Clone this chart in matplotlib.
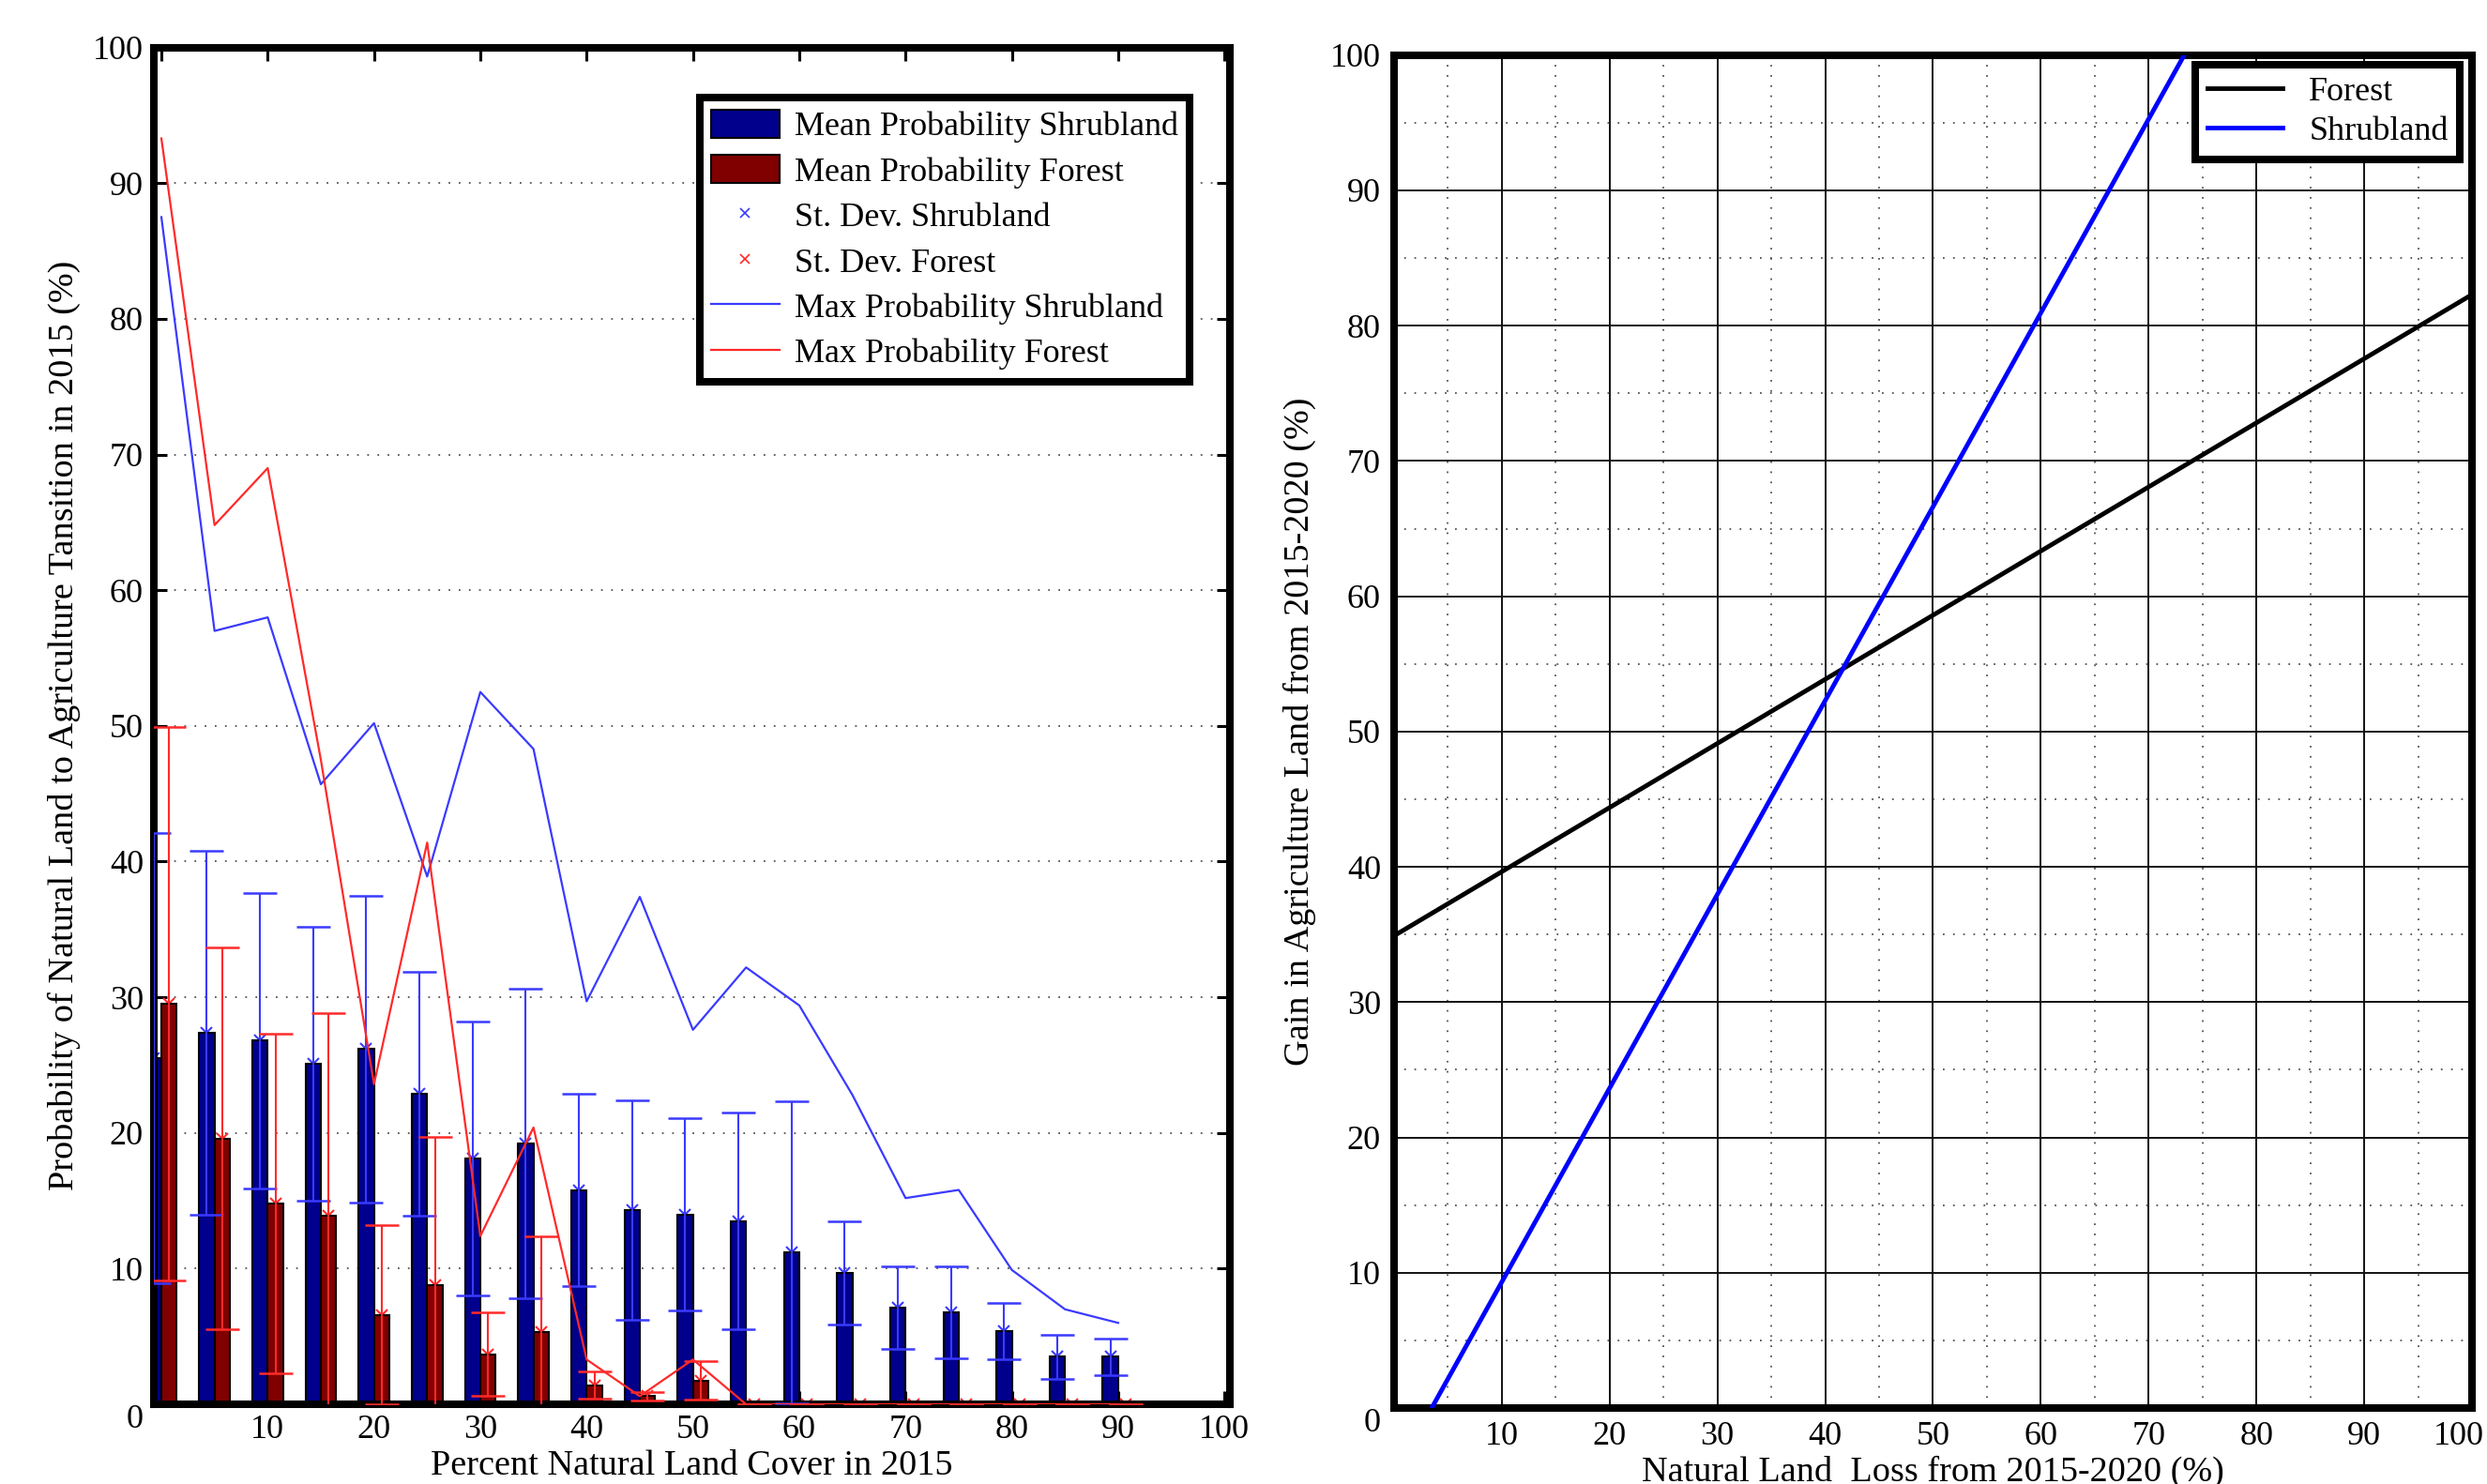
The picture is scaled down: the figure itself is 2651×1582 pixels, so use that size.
import numpy as np
import matplotlib.pyplot as plt
from matplotlib.lines import Line2D
from matplotlib.transforms import ScaledTranslation

plt.rcParams['font.family'] = ['Liberation Serif', 'DejaVu Serif']

# left panel: probability by percent natural land cover in 2015
cover = [0, 5, 10, 15, 20, 25, 30, 35, 40, 45, 50, 55, 60, 65, 70, 75, 80, 85, 90]
shrub_mean = [25.5, 27.4, 26.8, 25.1, 26.2, 22.9, 18.1, 19.2, 15.8, 14.3, 14.0,
              13.5, 11.2, 9.7, 7.1, 6.8, 5.4, 3.5, 3.5]
shrub_std = [16.6, 13.4, 10.9, 10.1, 11.3, 9.0, 10.1, 11.4, 7.1, 8.1, 7.1,
             8.0, 11.1, 3.8, 3.05, 3.4, 2.1, 1.6, 1.35]
shrub_max = [87.5, 57.0, 58.0, 45.7, 50.2, 38.9, 52.5, 48.3, 29.7, 37.4, 27.6,
             32.2, 29.4, 22.8, 15.2, 15.8, 9.9, 7.0, 6.0]
forest_mean = [29.5, 19.6, 14.8, 13.9, 6.6, 8.8, 3.7, 5.3, 1.4, 0.6, 1.75,
               0, 0, 0, 0, 0, 0, 0, 0]
forest_std = [20.4, 14.1, 12.5, 14.9, 6.6, 10.9, 3.1, 7.1, 1.0, 0.3, 1.4,
              0, 0, 0, 0, 0, 0, 0, 0]
forest_max = [93.3, 64.8, 69.0, 47.5, 23.6, 41.4, 12.4, 20.4, 3.3, 0.6, 3.3,
              0, 0, 0, 0, 0, 0, 0, 0]

# right panel: gain in agriculture vs natural land loss
loss_forest = [0, 100]
gain_forest = [34.9, 82.3]
loss_shrub = [3.5, 73.3]
gain_shrub = [0, 100]

ticks = np.arange(0, 101, 10)
FS = 26
LFS = 27.5
SPINE = 5.8

fig = plt.figure(figsize=(26.51, 15.82), dpi=100)

# ---------- left ----------
ax = fig.add_axes([0.0619, 0.0537, 0.4326, 0.9143])
x = np.array(cover, dtype=float)
w = 1.45
navy = '#00008c'
maroon = '#800000'
blue = '#3a3aff'
red = '#ff2a2a'

ax.bar(x - w / 2, shrub_mean, width=w, color=navy, edgecolor='black', linewidth=1.5,
       zorder=2, label='Mean Probability Shrubland')
ax.bar(x + w / 2, forest_mean, width=w, color=maroon, edgecolor='black', linewidth=1.5,
       zorder=2, label='Mean Probability Forest')

ax.plot(x - w / 2, shrub_mean, 'x', color=blue, ms=9, mew=1.5, zorder=1)
ax.plot(x + w / 2, forest_mean, 'x', color=red, ms=9, mew=1.5, zorder=1)
ax.errorbar(x - w / 2, shrub_mean, yerr=shrub_std, fmt='none', ecolor=blue,
            elinewidth=1.5, capsize=13, capthick=1.8, zorder=3)
ax.errorbar(x + w / 2, forest_mean, yerr=forest_std, fmt='none', ecolor=red,
            elinewidth=1.5, capsize=13, capthick=1.8, zorder=3)

ax.plot(x, shrub_max, color=blue, lw=1.6, zorder=4)
ax.plot(x, forest_max, color=red, lw=1.6, zorder=4)

ax.set_xlim(-0.7, 100.5)
ax.set_ylim(0, 100)
ax.set_xticks(ticks)
ax.set_xticklabels(['' if t == 0 else str(t) for t in ticks])
ax.set_yticks(ticks)
ax.yaxis.grid(True, color='#555555', linestyle=(0, (1, 5)), linewidth=1.3)
ax.set_axisbelow(True)
ax.tick_params(direction='in', length=10, width=2.2, labelsize=FS,
               top=True, right=True, pad=8)
for s in ax.spines.values():
    s.set_linewidth(SPINE)
ax.set_xlabel('Percent Natural Land Cover in 2015', fontsize=LFS, labelpad=3)
ax.set_ylabel('Probability of Natural Land to Agriculture Tansition in 2015 (%)',
              fontsize=LFS, labelpad=9)
# the "0" sits a little lower in the reference
ax.get_yticklabels()[0].set_transform(
    ax.get_yticklabels()[0].get_transform() + ScaledTranslation(0, -0.12, fig.dpi_scale_trans))

h_bars, _ = ax.get_legend_handles_labels()
handles = h_bars + [
    Line2D([], [], linestyle='none', marker='x', color=blue, ms=7, mew=1.2),
    Line2D([], [], linestyle='none', marker='x', color=red, ms=7, mew=1.2),
    Line2D([], [], color=blue, lw=1.6),
    Line2D([], [], color=red, lw=1.6),
]
labels = ['Mean Probability Shrubland', 'Mean Probability Forest',
          'St. Dev. Shrubland', 'St. Dev. Forest',
          'Max Probability Shrubland', 'Max Probability Forest']
leg = ax.legend(handles, labels, loc='upper right', bbox_to_anchor=(0.963, 0.963),
                borderaxespad=0, fontsize=FS, fancybox=False, framealpha=1,
                edgecolor='black', handlelength=2.0, handleheight=0.9,
                labelspacing=0.36, borderpad=0.35, handletextpad=0.45)
leg.get_frame().set_linewidth(SPINE)

# ---------- right ----------
ax2 = fig.add_axes([0.5605, 0.0512, 0.4335, 0.9117])
ax2.plot(loss_forest, gain_forest, color='black', lw=3.5, label='Forest', zorder=3)
ax2.plot(loss_shrub, gain_shrub, color='#0000ff', lw=3.5, label='Shrubland', zorder=3)
ax2.set_xlim(0, 100)
ax2.set_ylim(0, 100)
ax2.set_xticks(ticks)
ax2.set_yticks(ticks)
ax2.set_xticks(np.arange(5, 100, 10), minor=True)
ax2.set_yticks(np.arange(5, 100, 10), minor=True)
ax2.grid(True, which='major', color='#111111', linestyle='-', linewidth=1.4)
ax2.grid(True, which='minor', color='#555555', linestyle=(0, (1, 5)), linewidth=1.3)
ax2.set_axisbelow(True)
ax2.tick_params(which='both', direction='in', length=0, labelsize=FS, pad=10)
ax2.set_xticklabels(['' if t == 0 else str(t) for t in ticks])
last = ax2.get_xticklabels()[-1]
last.set_transform(last.get_transform() + ScaledTranslation(-0.14, 0, fig.dpi_scale_trans))
ax2.get_yticklabels()[0].set_transform(
    ax2.get_yticklabels()[0].get_transform() + ScaledTranslation(0, -0.12, fig.dpi_scale_trans))
for s in ax2.spines.values():
    s.set_linewidth(SPINE)
ax2.set_xlabel('Natural Land  Loss from 2015-2020 (%)', fontsize=LFS, labelpad=3)
ax2.set_ylabel('Gain in Agriculture Land from 2015-2020 (%)', fontsize=LFS, labelpad=11)
leg2 = ax2.legend(loc='upper right', bbox_to_anchor=(0.989, 0.993), borderaxespad=0,
                  fontsize=FS, fancybox=False, framealpha=1, edgecolor='black',
                  handlelength=2.2, labelspacing=0.25, borderpad=0.35,
                  handletextpad=0.8)
leg2.get_frame().set_linewidth(SPINE)

fig.savefig('out.png', dpi=100)
plt.close(fig)
